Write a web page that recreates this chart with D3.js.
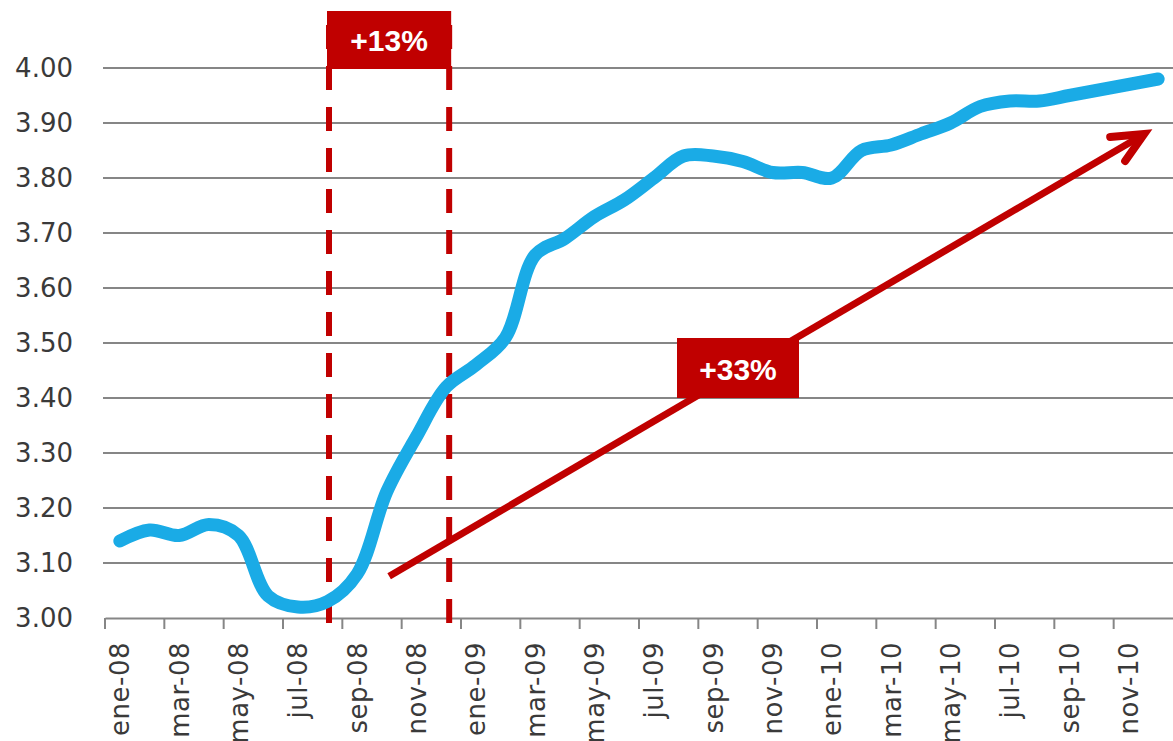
<!DOCTYPE html>
<html>
<head>
<meta charset="utf-8">
<script src="https://cdn.jsdelivr.net/npm/d3@7"></script>
<style>
  html, body { margin: 0; padding: 0; background: #fff; overflow: hidden; }
  svg { display: block; }
</style>
</head>
<body>
<div id="chart"></div>
<script>
// months, ene-08 .. dic-10
var months = ["ene-08","feb-08","mar-08","abr-08","may-08","jun-08","jul-08","ago-08","sep-08","oct-08","nov-08","dic-08",
              "ene-09","feb-09","mar-09","abr-09","may-09","jun-09","jul-09","ago-09","sep-09","oct-09","nov-09","dic-09",
              "ene-10","feb-10","mar-10","abr-10","may-10","jun-10","jul-10","ago-10","sep-10","oct-10","nov-10","dic-10"];

var values = [3.14, 3.16, 3.15, 3.17, 3.15, 3.04, 3.02, 3.03, 3.08, 3.23, 3.33, 3.42,
              3.46, 3.51, 3.66, 3.69, 3.73, 3.76, 3.80, 3.84, 3.84, 3.83, 3.81, 3.81,
              3.80, 3.85, 3.86, 3.88, 3.90, 3.93, 3.94, 3.94, 3.95, 3.96, 3.97, 3.98];

var yTicks = [3.00, 3.10, 3.20, 3.30, 3.40, 3.50, 3.60, 3.70, 3.80, 3.90, 4.00];

// annotations
var crisisStart = "ago-08", crisisEnd = "dic-08";
var shortLabel = "+13%";
var longLabel = "+33%";
var arrowFrom = {month: "sep-08", value: 3.085};
var arrowTo   = {month: "dic-10", value: 3.88};

var width = 1173, height = 741;
var margin = {top: 68, right: 0, bottom: 123, left: 105};

var svg = d3.select("#chart").append("svg")
    .attr("width", width)
    .attr("height", height);

var x = d3.scaleBand()
    .domain(months)
    .range([margin.left, 1173])
    .paddingInner(0).paddingOuter(0);
var bw = x.bandwidth();
function cx(m) { return x(m) + bw / 2; }

var y = d3.scaleLinear()
    .domain([3.0, 4.0])
    .range([618, 68]);

// gridlines
svg.append("g")
  .selectAll("line")
  .data(yTicks.slice(1))
  .enter().append("line")
    .attr("x1", 103).attr("x2", width)
    .attr("y1", function(d) { return y(d); })
    .attr("y2", function(d) { return y(d); })
    .attr("stroke", "#868686")
    .attr("stroke-width", 2);

// y labels
var yAxis = d3.axisLeft(y)
    .tickValues(yTicks)
    .tickFormat(d3.format(".2f"))
    .tickSize(0)
    .tickPadding(0);
var gy = svg.append("g")
    .attr("transform", "translate(73,0)")
    .call(yAxis);
gy.select(".domain").remove();
gy.selectAll("text")
    .attr("fill", "#3a3a3a")
    .style("font-family", "DejaVu Sans, sans-serif")
    .style("font-size", "26px");

// x axis
var evenMonths = months.filter(function(d, i) { return i % 2 === 0; });
var xAxis = d3.axisBottom(x)
    .tickValues(evenMonths)
    .tickSize(11)
    .tickSizeOuter(0);
var gx = svg.append("g")
    .attr("transform", "translate(0," + y(3.0) + ")")
    .call(xAxis);
gx.select(".domain")
    .attr("stroke", "#868686")
    .attr("stroke-width", 2);
gx.selectAll(".tick line")
    .attr("x1", -bw / 2).attr("x2", -bw / 2)
    .attr("stroke", "#868686")
    .attr("stroke-width", 2);
gx.selectAll(".tick text")
    .attr("transform", "rotate(-90)")
    .attr("x", -24)
    .attr("y", 0)
    .attr("dy", "0.36em")
    .attr("text-anchor", "end")
    .attr("fill", "#3a3a3a")
    .style("font-family", "DejaVu Sans, sans-serif")
    .style("font-size", "26px")
    .style("letter-spacing", "0.5px");

// dashed crisis bounds
var bounds = [cx(crisisStart) + 1.5, cx(crisisEnd) + 3];
svg.append("g")
  .selectAll("line")
  .data(bounds)
  .enter().append("line")
    .attr("x1", function(d) { return d; })
    .attr("x2", function(d) { return d; })
    .attr("y1", 623).attr("y2", 14)
    .attr("stroke", "#c00000")
    .attr("stroke-width", 6)
    .attr("stroke-dasharray", "24,17");

// the series
var line = d3.line()
    .x(function(d, i) { return cx(months[i]); })
    .y(function(d) { return y(d); })
    .curve(d3.curveCatmullRom.alpha(0.5));

svg.append("path")
    .datum(values)
    .attr("d", line)
    .attr("fill", "none")
    .attr("stroke", "#1aabe6")
    .attr("stroke-width", 13)
    .attr("stroke-linecap", "round")
    .attr("stroke-linejoin", "round");

// +13% box
var box1 = svg.append("g");
box1.append("rect")
    .attr("x", bounds[0] - 2).attr("y", 11)
    .attr("width", bounds[1] - bounds[0] + 4).attr("height", 58)
    .attr("fill", "#c00000");
box1.append("text")
    .attr("x", (bounds[0] + bounds[1]) / 2).attr("y", 40)
    .attr("dy", "0.36em")
    .attr("text-anchor", "middle")
    .attr("fill", "#fff")
    .style("font-family", "Liberation Sans, Arial, sans-serif")
    .style("font-weight", "bold")
    .style("font-size", "30px")
    .text(shortLabel);

// arrow +33%
var ax1 = cx(arrowFrom.month) + 32, ay1 = y(arrowFrom.value) + 5;
var ax2 = cx(arrowTo.month) - 14, ay2 = y(arrowTo.value);
svg.append("line")
    .attr("x1", ax1).attr("y1", ay1)
    .attr("x2", ax2 - 4).attr("y2", ay2 + 2.5)
    .attr("stroke", "#c00000")
    .attr("stroke-width", 7);
svg.append("path")
    .attr("d", "M" + (ax2 - 34) + "," + (ay2 + 3) + "L" + ax2 + "," + ay2 + "L" + (ax2 - 19) + "," + (ay2 + 27))
    .attr("fill", "none")
    .attr("stroke", "#c00000")
    .attr("stroke-width", 8)
    .attr("stroke-linecap", "round")
    .attr("stroke-linejoin", "miter");

var box2 = svg.append("g");
box2.append("rect")
    .attr("x", 677).attr("y", 338)
    .attr("width", 122).attr("height", 60)
    .attr("fill", "#c00000");
box2.append("text")
    .attr("x", 738).attr("y", 369)
    .attr("dy", "0.36em")
    .attr("text-anchor", "middle")
    .attr("fill", "#fff")
    .style("font-family", "Liberation Sans, Arial, sans-serif")
    .style("font-weight", "bold")
    .style("font-size", "30px")
    .text(longLabel);
</script>
</body>
</html>
